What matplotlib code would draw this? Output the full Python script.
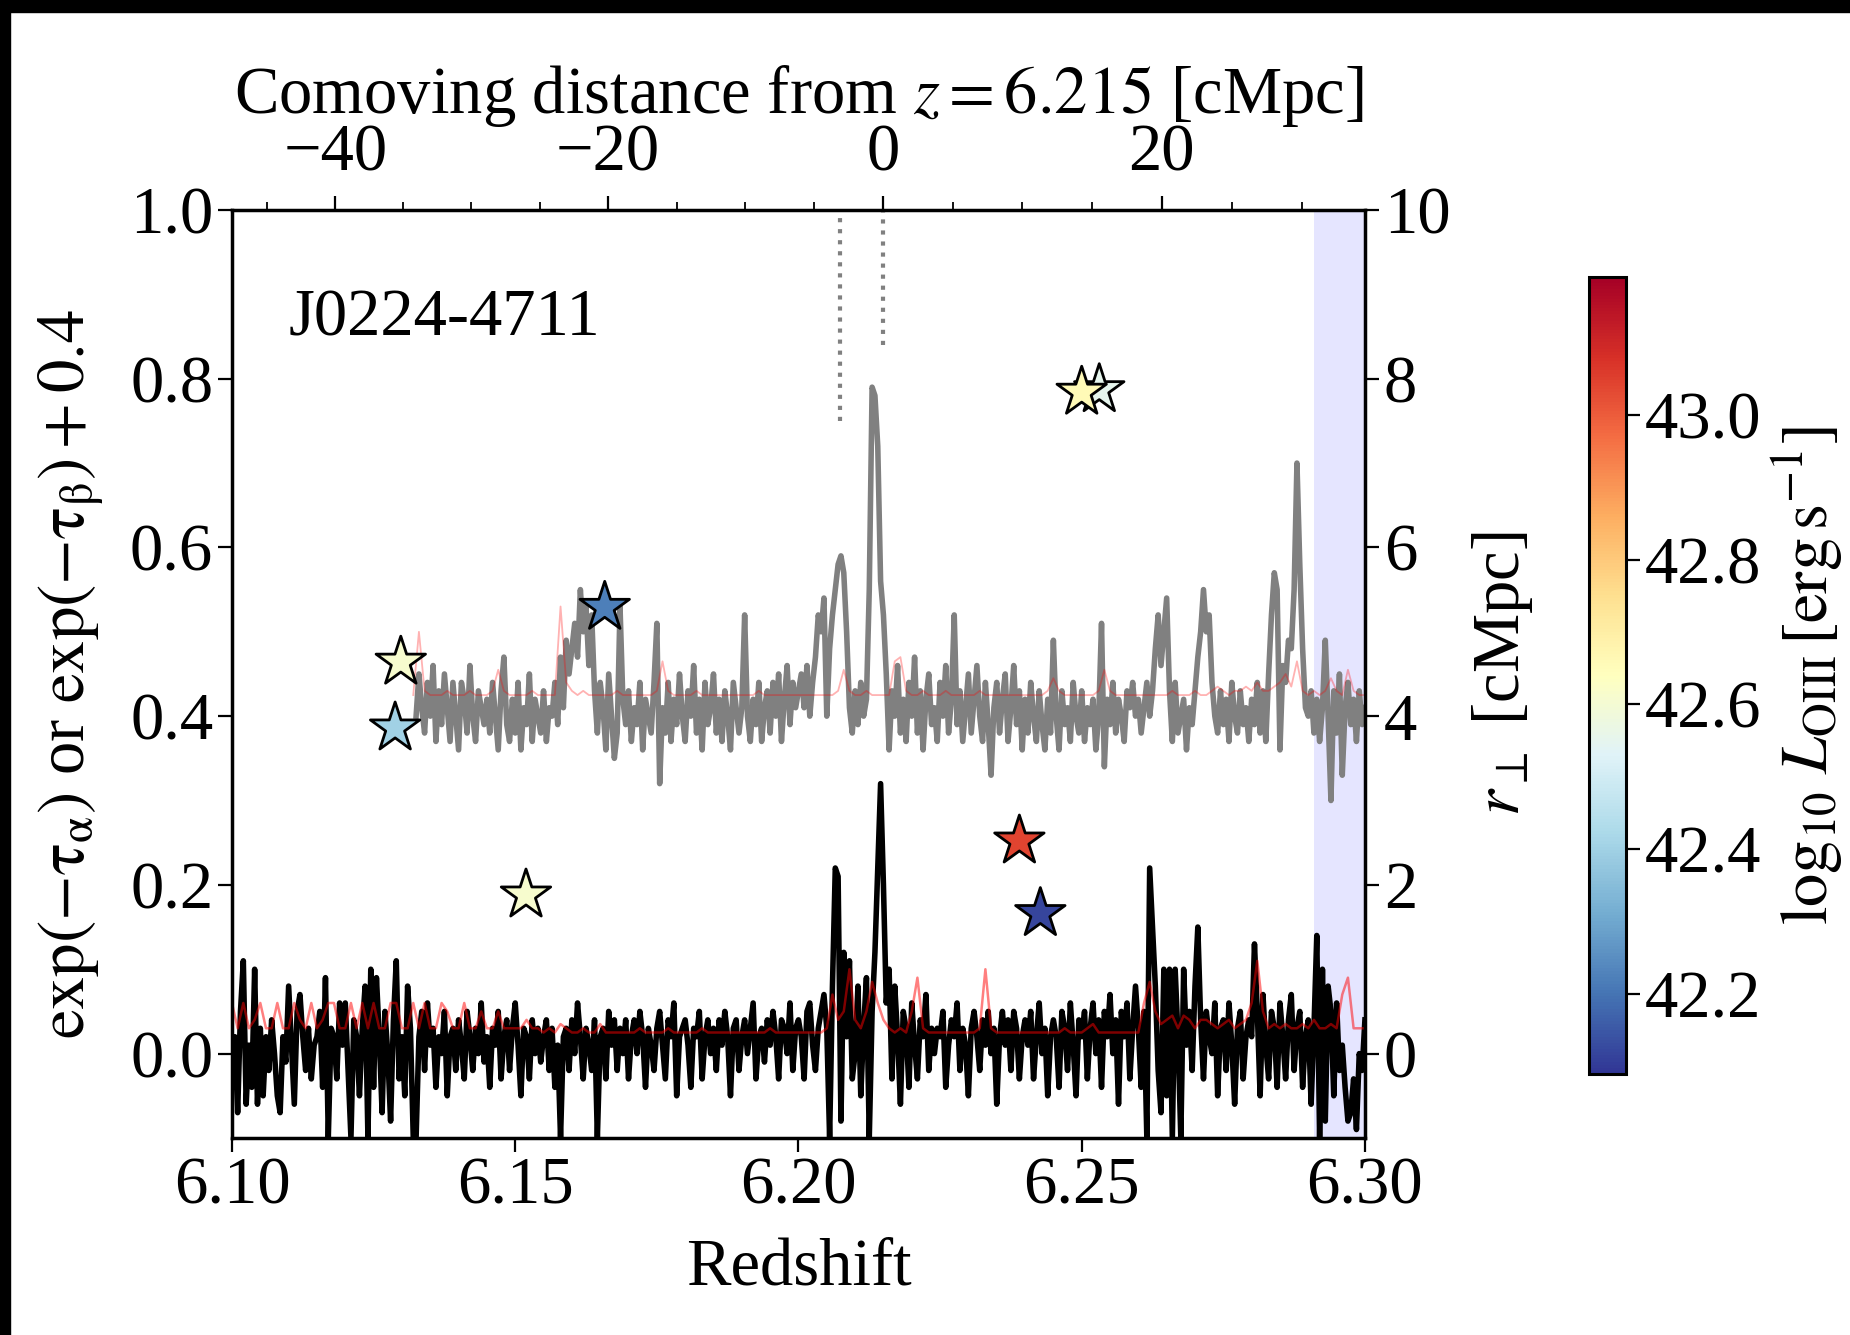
import numpy as np
import matplotlib
matplotlib.use('Agg')
import matplotlib.pyplot as plt
from matplotlib.patches import Rectangle

plt.rcParams['font.family'] = 'serif'
plt.rcParams['font.serif'] = ['Liberation Serif', 'DejaVu Serif']
plt.rcParams['mathtext.fontset'] = 'stix'

# Lya transmission, z = 6.100 ... 6.300 in steps of 0.0005
lya_flux = [
    -0.03, 0.02, -0.07, 0.05, 0.11, -0.06, 0.01, -0.04, 0.10, -0.06,
    0.03, -0.05, 0.02, -0.02, 0.04, 0.00, -0.05, -0.07, 0.02, -0.01,
    0.08, 0.01, -0.06, 0.05, 0.07, 0.02, -0.02, 0.03, -0.03, 0.01,
    0.02, 0.05, -0.04, 0.09, -0.10, 0.03, 0.02, -0.03, 0.06, 0.01,
    0.06, -0.02, -0.10, 0.04, 0.02, -0.05, 0.03, 0.08, -0.10, 0.10,
    -0.04, 0.09, 0.02, -0.07, 0.05, 0.00, -0.08, 0.04, 0.11, -0.03,
    0.02, -0.05, 0.08, 0.03, -0.10, -0.10, 0.02, 0.05, -0.02, 0.06,
    0.01, 0.03, -0.04, 0.02, 0.00, 0.05, -0.05, 0.02, 0.03, -0.02,
    0.04, 0.01, -0.03, 0.05, 0.02, -0.02, 0.03, 0.00, 0.06, -0.01,
    0.02, -0.04, 0.03, 0.01, 0.05, -0.03, 0.02, 0.04, -0.02, 0.03,
    0.06, 0.01, -0.05, 0.03, 0.02, -0.03, 0.04, 0.00, 0.03, -0.01,
    0.02, 0.04, -0.02, 0.03, -0.04, 0.01, -0.10, 0.02, 0.03, -0.02,
    0.04, 0.00, 0.06, 0.02, -0.03, 0.03, 0.01, -0.02, 0.04, -0.10,
    0.02, 0.03, -0.03, 0.05, 0.01, 0.04, -0.02, 0.03, 0.00, 0.04,
    -0.03, 0.02, 0.04, 0.00, 0.05, 0.02, -0.04, 0.03, 0.01, -0.02,
    0.03, 0.05, 0.01, -0.03, 0.04, 0.02, 0.06, -0.05, 0.02, 0.03,
    0.04, 0.01, -0.04, 0.03, 0.02, 0.05, -0.03, 0.02, 0.04, 0.00,
    0.03, -0.02, 0.04, 0.01, 0.05, 0.02, -0.05, 0.03, 0.04, -0.02,
    0.02, 0.04, 0.00, 0.03, 0.06, -0.03, 0.02, 0.03, -0.01, 0.04,
    0.01, 0.05, 0.02, -0.03, 0.04, 0.03, 0.00, 0.06, -0.02, 0.03,
    0.04, 0.02, -0.03, 0.05, 0.06, 0.01, -0.02, 0.03, 0.05, 0.07,
    0.03, -0.10, 0.08, 0.22, 0.21, -0.08, 0.12, 0.02, 0.11, -0.03,
    0.00, 0.08, -0.05, 0.03, 0.09, -0.10, 0.05, 0.12, 0.22, 0.32,
    0.20, 0.06, 0.10, -0.03, 0.08, 0.02, -0.06, 0.05, 0.03, -0.04,
    0.06, 0.01, -0.03, 0.04, 0.02, 0.07, -0.02, 0.03, 0.00, 0.03,
    0.02, 0.05, -0.04, 0.01, 0.04, 0.02, 0.06, -0.02, 0.03, 0.01,
    -0.05, 0.03, 0.05, 0.02, -0.02, 0.04, 0.01, 0.05, 0.00, 0.03,
    -0.06, 0.02, 0.05, 0.01, 0.04, -0.02, 0.05, 0.03, -0.03, 0.02,
    0.04, 0.01, 0.05, -0.03, 0.02, 0.06, 0.00, 0.03, -0.05, 0.02,
    0.04, 0.02, -0.04, 0.05, 0.03, -0.02, 0.06, 0.01, -0.05, 0.04,
    0.02, 0.05, -0.03, 0.03, 0.06, 0.00, 0.04, -0.04, 0.05, 0.02,
    0.07, 0.00, 0.04, -0.06, 0.05, 0.02, 0.06, -0.03, 0.03, 0.08,
    0.03, -0.04, 0.05, -0.10, 0.22, 0.15, 0.08, -0.02, -0.07, 0.10,
    -0.05, 0.10, -0.10, 0.10, 0.02, -0.10, 0.10, 0.01, 0.05, -0.02,
    0.08, 0.15, 0.04, -0.03, 0.05, 0.02, 0.00, 0.06, -0.05, 0.03,
    0.04, -0.02, 0.06, 0.01, -0.06, 0.03, 0.05, -0.03, 0.02, 0.04,
    0.02, 0.13, 0.05, -0.05, 0.07, 0.01, -0.03, 0.05, 0.03, -0.04,
    0.06, 0.02, -0.03, 0.04, 0.07, -0.02, 0.03, 0.05, -0.04, 0.02,
    0.04, -0.06, 0.03, 0.14, -0.10, 0.10, -0.08, 0.08, 0.05, -0.05,
    0.06, -0.02, 0.01, -0.04, -0.08, -0.07, -0.03, -0.09, 0.00, -0.02,
    0.04,
]

# Lyb transmission + 0.4, z = 6.1325 ... 6.300 in steps of 0.0005
lyb_flux = [
    0.40, 0.45, 0.41, 0.38, 0.44,
    0.40, 0.46, 0.37, 0.43, 0.39, 0.45, 0.41, 0.37, 0.44, 0.40,
    0.36, 0.44, 0.42, 0.38, 0.46, 0.40, 0.37, 0.43, 0.41, 0.39,
    0.42, 0.38, 0.44, 0.40, 0.36, 0.43, 0.47, 0.39, 0.37, 0.42,
    0.38, 0.44, 0.36, 0.41, 0.39, 0.45, 0.37, 0.42, 0.40, 0.38,
    0.43, 0.37, 0.41, 0.40, 0.44, 0.39, 0.47, 0.41, 0.49, 0.45,
    0.48, 0.51, 0.47, 0.55, 0.50, 0.53, 0.46, 0.52, 0.43, 0.38,
    0.44, 0.41, 0.36, 0.45, 0.40, 0.35, 0.38, 0.53, 0.42, 0.39,
    0.43, 0.37, 0.41, 0.39, 0.44, 0.36, 0.42, 0.40, 0.38, 0.44,
    0.51, 0.32, 0.41, 0.38, 0.44, 0.37, 0.42, 0.39, 0.45, 0.40,
    0.37, 0.43, 0.40, 0.46, 0.38, 0.42, 0.36, 0.44, 0.39, 0.41,
    0.45, 0.38, 0.42, 0.37, 0.43, 0.40, 0.36, 0.44, 0.41, 0.38,
    0.41, 0.52, 0.40, 0.37, 0.42, 0.39, 0.44, 0.37, 0.41, 0.43,
    0.38, 0.44, 0.40, 0.45, 0.37, 0.42, 0.46, 0.39, 0.44, 0.41,
    0.43, 0.45, 0.41, 0.46, 0.40, 0.44, 0.47, 0.52, 0.50, 0.54,
    0.40, 0.48, 0.52, 0.55, 0.58, 0.59, 0.57, 0.50, 0.41, 0.38,
    0.43, 0.39, 0.44, 0.40, 0.42, 0.55, 0.79, 0.78, 0.72, 0.56,
    0.52, 0.45, 0.36, 0.43, 0.40, 0.46, 0.38, 0.42, 0.37, 0.44,
    0.40, 0.47, 0.38, 0.43, 0.36, 0.42, 0.45, 0.39, 0.41, 0.37,
    0.44, 0.40, 0.46, 0.38, 0.42, 0.52, 0.39, 0.43, 0.37, 0.41,
    0.45, 0.38, 0.42, 0.46, 0.40, 0.37, 0.44, 0.39, 0.33, 0.41,
    0.44, 0.38, 0.42, 0.45, 0.37, 0.41, 0.46, 0.39, 0.43, 0.36,
    0.42, 0.38, 0.44, 0.40, 0.37, 0.43, 0.39, 0.36, 0.42, 0.38,
    0.49, 0.40, 0.36, 0.43, 0.39, 0.41, 0.37, 0.44, 0.40, 0.38,
    0.43, 0.37, 0.41, 0.39, 0.42, 0.36, 0.40, 0.51, 0.34, 0.42,
    0.39, 0.44, 0.38, 0.42, 0.40, 0.37, 0.43, 0.41, 0.44, 0.40,
    0.42, 0.38, 0.41, 0.44, 0.40, 0.43, 0.48, 0.52, 0.46, 0.50,
    0.54, 0.43, 0.37, 0.44, 0.38, 0.40, 0.42, 0.36, 0.41, 0.39,
    0.43, 0.47, 0.50, 0.55, 0.50, 0.52, 0.44, 0.40, 0.38, 0.43,
    0.39, 0.42, 0.37, 0.44, 0.40, 0.38, 0.43, 0.39, 0.41, 0.37,
    0.42, 0.39, 0.44, 0.38, 0.43, 0.37, 0.45, 0.52, 0.57, 0.55,
    0.36, 0.46, 0.44, 0.49, 0.48, 0.55, 0.70, 0.58, 0.48, 0.41,
    0.40, 0.43, 0.38, 0.42, 0.37, 0.41, 0.49, 0.40, 0.30, 0.43,
    0.38, 0.45, 0.33, 0.41, 0.44, 0.39, 0.42, 0.37, 0.43, 0.39,
    0.41,
]

# error spectra, steps of 0.001
lya_err = [
    0.06, 0.03, 0.06, 0.03, 0.04, 0.06, 0.03, 0.03, 0.06, 0.03,
    0.03, 0.06, 0.04, 0.03, 0.06, 0.03, 0.04, 0.06, 0.06, 0.03,
    0.03, 0.06, 0.03, 0.06, 0.03, 0.06, 0.03, 0.03, 0.06, 0.06,
    0.03, 0.03, 0.06, 0.03, 0.06, 0.03, 0.03, 0.06, 0.05, 0.03,
    0.03, 0.06, 0.03, 0.03, 0.05, 0.03, 0.03, 0.05, 0.03, 0.03,
    0.03, 0.03, 0.04, 0.03, 0.03, 0.025, 0.03, 0.025, 0.035, 0.03,
    0.025, 0.025, 0.03, 0.025, 0.025, 0.035, 0.025, 0.025, 0.025, 0.025,
    0.025, 0.025, 0.03, 0.025, 0.025, 0.025, 0.025, 0.03, 0.025, 0.025,
    0.025, 0.025, 0.025, 0.03, 0.025, 0.025, 0.025, 0.025, 0.025, 0.025,
    0.025, 0.025, 0.025, 0.025, 0.025, 0.03, 0.025, 0.025, 0.025, 0.025,
    0.025, 0.025, 0.025, 0.025, 0.025, 0.03, 0.07, 0.04, 0.05, 0.10,
    0.04, 0.03, 0.05, 0.085, 0.06, 0.04, 0.03, 0.025, 0.03, 0.025,
    0.05, 0.09, 0.03, 0.025, 0.025, 0.025, 0.025, 0.025, 0.025, 0.025,
    0.025, 0.025, 0.03, 0.10, 0.03, 0.025, 0.025, 0.025, 0.025, 0.025,
    0.025, 0.025, 0.025, 0.025, 0.025, 0.025, 0.025, 0.03, 0.025, 0.025,
    0.025, 0.03, 0.035, 0.025, 0.025, 0.025, 0.025, 0.025, 0.025, 0.025,
    0.025, 0.06, 0.085, 0.05, 0.035, 0.04, 0.045, 0.03, 0.045, 0.04,
    0.03, 0.04, 0.04, 0.035, 0.03, 0.035, 0.04, 0.03, 0.035, 0.04,
    0.06, 0.11, 0.05, 0.03, 0.035, 0.03, 0.035, 0.03, 0.03, 0.035,
    0.03, 0.04, 0.03, 0.03, 0.035, 0.03, 0.07, 0.09, 0.03, 0.03,
    0.03,
]

# z = 6.132 ... 6.300
lyb_err = [
    0.425, 0.50, 0.43, 0.425, 0.425, 0.425, 0.43, 0.425,
    0.425, 0.425, 0.43, 0.425, 0.425, 0.425, 0.43, 0.455, 0.43, 0.425,
    0.425, 0.425, 0.425, 0.43, 0.425, 0.425, 0.425, 0.425, 0.53, 0.44,
    0.43, 0.425, 0.43, 0.425, 0.425, 0.425, 0.425, 0.425, 0.43, 0.425,
    0.425, 0.425, 0.425, 0.425, 0.425, 0.43, 0.465, 0.43, 0.425, 0.425,
    0.425, 0.425, 0.43, 0.425, 0.425, 0.425, 0.425, 0.425, 0.425, 0.425,
    0.425, 0.425, 0.425, 0.43, 0.425, 0.425, 0.425, 0.425, 0.425, 0.425,
    0.425, 0.425, 0.425, 0.425, 0.425, 0.425, 0.425, 0.43, 0.455, 0.43,
    0.425, 0.425, 0.43, 0.425, 0.425, 0.425, 0.425, 0.465, 0.47, 0.43,
    0.425, 0.425, 0.43, 0.425, 0.425, 0.425, 0.43, 0.425, 0.425, 0.425,
    0.425, 0.425, 0.43, 0.425, 0.425, 0.425, 0.425, 0.425, 0.425, 0.425,
    0.425, 0.425, 0.425, 0.425, 0.43, 0.445, 0.43, 0.425, 0.425, 0.425,
    0.425, 0.425, 0.425, 0.43, 0.455, 0.43, 0.425, 0.425, 0.425, 0.425,
    0.425, 0.425, 0.425, 0.425, 0.425, 0.425, 0.43, 0.425, 0.425, 0.425,
    0.43, 0.425, 0.425, 0.43, 0.435, 0.43, 0.425, 0.43, 0.43, 0.435,
    0.43, 0.44, 0.43, 0.43, 0.435, 0.44, 0.45, 0.435, 0.465, 0.43,
    0.425, 0.43, 0.425, 0.43, 0.445, 0.43, 0.425, 0.455, 0.43, 0.425,
    0.425,
]

z_lya = np.round(6.100 + 0.0005 * np.arange(len(lya_flux)), 4)
z_lyb = np.round(6.1325 + 0.0005 * np.arange(len(lyb_flux)), 4)
z_lya_err = np.round(6.100 + 0.001 * np.arange(len(lya_err)), 3)
z_lyb_err = np.round(6.132 + 0.001 * np.arange(len(lyb_err)), 3)

# [OIII] emitters
gal_z = [6.1298, 6.1288, 6.1658, 6.1519, 6.2531, 6.2500, 6.2390, 6.2427]
gal_rperp = [4.64, 3.86, 5.29, 1.88, 7.87, 7.84, 2.52, 1.66]
gal_logL = [42.61, 42.40, 42.22, 42.61, 42.55, 42.66, 43.04, 42.12]

mark_z = [6.2073, 6.215]
mark_ymin = [0.75, 0.84]
z_ref = 6.215

# comoving distance relative to z_ref (H0=67.7, Om=0.31)
zgrid = np.linspace(5.8, 6.6, 4001)
hz = 67.7 * np.sqrt(0.31 * (1 + zgrid) ** 3 + 0.69)
dc = np.concatenate([[0], np.cumsum(0.5 * (299792.458 / hz[1:] + 299792.458 / hz[:-1]) * np.diff(zgrid))])
dc = dc - np.interp(z_ref, zgrid, dc)


def z2d(z):
    return np.interp(z, zgrid, dc)


def d2z(d):
    return np.interp(d, dc, zgrid)


fs = 48
fig = plt.figure(figsize=(18.5, 13.35), dpi=100)
ax = fig.add_axes([0.1254, 0.1476, 0.6124, 0.6951])

ax.axvspan(6.291, 6.30, color='b', alpha=0.1, lw=0)
ax.plot(z_lyb, lyb_flux, color='grey', lw=4)
ax.plot(z_lyb_err, lyb_err, color='red', alpha=0.3, lw=1.3)
ax.plot(z_lya, lya_flux, color='k', lw=4)
ax.plot(z_lya_err, lya_err, color='red', alpha=0.5, lw=1.8)
ax.vlines(mark_z, mark_ymin, 1.0, colors='grey', linestyles=':', lw=3)

ax.set_xlim(6.10, 6.30)
ax.set_ylim(-0.1, 1.0)
ax.set_xticks([6.10, 6.15, 6.20, 6.25, 6.30])
ax.set_xticklabels(['6.10', '6.15', '6.20', '6.25', '6.30'])
ax.set_yticks([0.0, 0.2, 0.4, 0.6, 0.8, 1.0])
ax.set_yticklabels(['0.0', '0.2', '0.4', '0.6', '0.8', '1.0'])
ax.set_xlabel('Redshift', fontsize=fs, labelpad=14)
ax.set_ylabel(r'$\exp(-\mathrm{\tau}_\mathrm{\alpha})$ or $\exp(-\mathrm{\tau}_\mathrm{\beta})+0.4$',
              fontsize=fs)
ax.yaxis.set_label_coords(-0.112, 0.5)
ax.tick_params(labelsize=fs, length=10, width=1.6)
for s in ax.spines.values():
    s.set_linewidth(2.5)
ax.text(0.05, 0.883, 'J0224-4711', transform=ax.transAxes, fontsize=fs, va='center')

top = ax.secondary_xaxis('top', functions=(z2d, d2z))
top.set_xticks([-40, -20, 0, 20])
top.set_xticks(np.arange(-45, 36, 5), minor=True)
top.set_xlabel(r'Comoving distance from $z=6.215$ [cMpc]', fontsize=fs, labelpad=8)
top.tick_params(labelsize=fs, length=10, width=1.6, pad=8)
top.tick_params(which='minor', length=6, width=1.3)

ax2 = ax.twinx()
ax2.set_ylim(-1, 10)
ax2.set_yticks([0, 2, 4, 6, 8, 10])
ax2.tick_params(labelsize=fs, length=10, width=1.6)
ax2.set_ylabel(r'$r_\perp$ [cMpc]', fontsize=fs, labelpad=14)
sc = ax2.scatter(gal_z, gal_rperp, c=gal_logL, cmap='RdYlBu_r', vmin=42.09, vmax=43.19,
                 marker='*', s=1400, edgecolors='k', linewidths=2, zorder=5)

cax = fig.add_axes([0.859, 0.1955, 0.020, 0.597])
cb = fig.colorbar(sc, cax=cax)
cb.set_ticks([42.2, 42.4, 42.6, 42.8, 43.0])
cb.ax.tick_params(labelsize=fs, length=10, width=1.6)
cb.outline.set_linewidth(2.2)
cb.set_label(r'$\log_{10}\,L_{\rm OIII}\,[\rm erg\,s^{-1}]$', fontsize=fs, labelpad=6)

# black border strips of the original screenshot
fig.patches.append(Rectangle((0, 1 - 12 / 1335), 1, 12 / 1335, transform=fig.transFigure,
                             color='k', zorder=10))
fig.patches.append(Rectangle((0, 0), 10 / 1850, 1, transform=fig.transFigure,
                             color='k', zorder=10))

fig.savefig('out.png', dpi=100)
